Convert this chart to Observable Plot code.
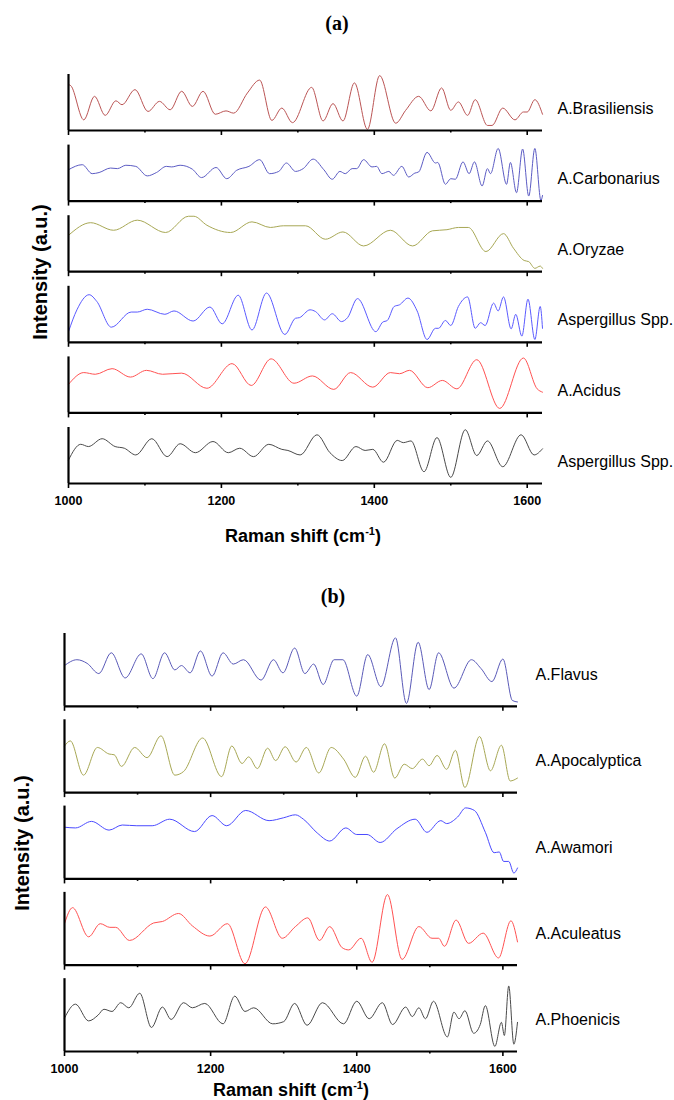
<!DOCTYPE html>
<html><head><meta charset="utf-8">
<script src="https://cdn.jsdelivr.net/npm/d3@7"></script>
<script src="https://cdn.jsdelivr.net/npm/@observablehq/plot@0.6"></script>
<style>
body{margin:0;background:#fff;}
#fig{position:relative;width:674px;height:1100px;font-family:"Liberation Sans",Arial,sans-serif;color:#000;}
#fig svg{position:absolute;left:0;}
.ttl{position:absolute;font-family:"Liberation Serif","Times New Roman",serif;font-weight:bold;font-size:20px;transform:translate(-50%,-50%);white-space:nowrap;}
.xl{position:absolute;font-weight:bold;font-size:18px;transform:translate(-50%,-50%);white-space:nowrap;}
.xl sup{font-size:11px;}
.yl{position:absolute;font-weight:bold;font-size:20px;transform:translate(-50%,-50%) rotate(-90deg);white-space:nowrap;}
</style></head><body><div id="fig"></div>
<script>
const ramanTicks = [1000, 1200, 1400, 1600];
const minorTicks = [1100, 1300, 1500];

const namesA = ["A.Brasiliensis", "A.Carbonarius", "A.Oryzae", "Aspergillus Spp.", "A.Acidus", "Aspergillus Spp."];
const colorsA = ["#bb5555", "#5c5cc4", "#a8a855", "#5a5aff", "#ff5252", "#4a4a4a"];
const namesB = ["A.Flavus", "A.Apocalyptica", "A.Awamori", "A.Aculeatus", "A.Phoenicis"];
const colorsB = ["#5a5ab8", "#a8a855", "#4a4aff", "#ff5252", "#4a4a4a"];

// [Raman shift, relative intensity]
const brasiliensis = [[1000,0.82],[1003,0.80],[1020,0.19],[1034,0.61],[1048,0.27],[1062,0.53],[1070,0.46],[1087,0.73],[1104,0.34],[1119,0.52],[1133,0.37],[1148,0.70],[1162,0.43],[1176,0.70],[1192,0.29],[1206,0.35],[1216,0.31],[1234,0.67],[1250,0.90],[1266,0.18],[1279,0.40],[1293,0.14],[1318,0.77],[1333,0.17],[1346,0.48],[1359,0.17],[1374,0.85],[1391,0.02],[1407,0.98],[1428,0.13],[1441,0.36],[1458,0.61],[1474,0.35],[1488,0.76],[1500,0.36],[1510,0.51],[1522,0.27],[1532,0.55],[1548,0.09],[1554,0.09],[1568,0.40],[1584,0.19],[1595,0.33],[1600,0.33],[1610,0.55],[1620,0.29]];
const carbonarius = [[1000,0.56],[1018,0.65],[1031,0.49],[1040,0.51],[1055,0.59],[1064,0.58],[1075,0.64],[1088,0.62],[1103,0.45],[1115,0.51],[1128,0.62],[1135,0.61],[1146,0.64],[1162,0.57],[1174,0.42],[1193,0.60],[1207,0.40],[1220,0.55],[1236,0.62],[1250,0.74],[1263,0.49],[1275,0.53],[1285,0.68],[1297,0.53],[1307,0.58],[1320,0.75],[1334,0.56],[1345,0.39],[1355,0.53],[1362,0.49],[1371,0.58],[1377,0.58],[1386,0.74],[1397,0.61],[1403,0.62],[1410,0.49],[1419,0.53],[1425,0.46],[1436,0.62],[1445,0.43],[1453,0.50],[1458,0.52],[1469,0.87],[1480,0.68],[1483,0.69],[1493,0.30],[1500,0.40],[1506,0.39],[1516,0.70],[1524,0.49],[1531,0.70],[1541,0.27],[1548,0.58],[1552,0.49],[1562,0.94],[1573,0.30],[1578,0.69],[1586,0.15],[1594,0.93],[1602,0.09],[1610,0.94],[1618,0.01],[1620,0.10]];
const oryzae = [[1000,0.65],[1029,0.875],[1059,0.74],[1090,0.92],[1127,0.70],[1157,0.99],[1164,0.99],[1181,0.83],[1212,0.70],[1240,0.89],[1264,0.79],[1281,0.82],[1310,0.82],[1336,0.58],[1359,0.71],[1386,0.46],[1421,0.74],[1450,0.46],[1476,0.73],[1495,0.75],[1510,0.79],[1523,0.79],[1546,0.36],[1569,0.68],[1582,0.42],[1596,0.20],[1602,0.18],[1610,0.06],[1617,0.10],[1620,0.06]];
const aspergillusBlue = [[1000,0.19],[1011,0.58],[1027,0.85],[1037,0.73],[1056,0.27],[1082,0.54],[1090,0.54],[1103,0.59],[1126,0.50],[1138,0.56],[1163,0.38],[1185,0.63],[1201,0.33],[1222,0.84],[1240,0.22],[1259,0.88],[1283,0.14],[1297,0.43],[1302,0.44],[1316,0.58],[1323,0.55],[1335,0.40],[1345,0.51],[1357,0.37],[1365,0.44],[1378,0.78],[1402,0.19],[1411,0.36],[1417,0.39],[1426,0.64],[1433,0.67],[1444,0.79],[1456,0.56],[1469,0.05],[1480,0.25],[1484,0.25],[1493,0.39],[1500,0.30],[1510,0.64],[1522,0.81],[1532,0.25],[1539,0.35],[1545,0.30],[1556,0.70],[1562,0.56],[1569,0.81],[1579,0.24],[1585,0.50],[1593,0.11],[1601,0.77],[1610,0.05],[1617,0.64],[1620,0.25]];
const acidus = [[1000,0.51],[1020,0.72],[1035,0.69],[1057,0.79],[1081,0.64],[1102,0.76],[1123,0.69],[1148,0.71],[1181,0.44],[1214,0.88],[1239,0.49],[1265,0.965],[1295,0.53],[1319,0.66],[1347,0.42],[1369,0.72],[1398,0.46],[1421,0.72],[1433,0.70],[1446,0.76],[1470,0.45],[1489,0.58],[1508,0.43],[1534,0.95],[1564,0.08],[1595,0.98],[1613,0.43],[1620,0.37]];
const aspergillusBlack = [[1000,0.42],[1016,0.70],[1026,0.66],[1044,0.80],[1061,0.66],[1073,0.63],[1088,0.51],[1109,0.80],[1129,0.48],[1146,0.71],[1166,0.55],[1189,0.75],[1209,0.55],[1224,0.63],[1242,0.48],[1262,0.70],[1279,0.61],[1287,0.59],[1303,0.51],[1325,0.87],[1342,0.55],[1358,0.41],[1376,0.66],[1388,0.59],[1398,0.61],[1412,0.38],[1430,0.77],[1438,0.73],[1448,0.76],[1465,0.21],[1482,0.82],[1500,0.11],[1519,0.96],[1534,0.50],[1548,0.76],[1568,0.30],[1592,0.87],[1609,0.51],[1620,0.62]];

const flavus = [[1000,0.56],[1017,0.64],[1031,0.59],[1047,0.45],[1064,0.735],[1083,0.39],[1105,0.72],[1121,0.38],[1137,0.735],[1151,0.50],[1160,0.56],[1172,0.46],[1186,0.76],[1202,0.415],[1217,0.735],[1231,0.58],[1245,0.64],[1269,0.36],[1286,0.64],[1299,0.46],[1315,0.80],[1329,0.45],[1341,0.58],[1354,0.30],[1369,0.64],[1381,0.64],[1400,0.14],[1415,0.71],[1433,0.27],[1453,0.94],[1468,0.04],[1484,0.88],[1499,0.23],[1512,0.735],[1533,0.25],[1557,0.64],[1570,0.52],[1585,0.34],[1600,0.65],[1613,0.08],[1620,0.06]];
const apocalyptica = [[1000,0.64],[1008,0.71],[1026,0.24],[1045,0.62],[1061,0.53],[1068,0.52],[1078,0.36],[1096,0.62],[1113,0.48],[1132,0.78],[1151,0.24],[1163,0.29],[1189,0.75],[1215,0.22],[1229,0.64],[1243,0.40],[1252,0.49],[1264,0.33],[1278,0.61],[1289,0.44],[1302,0.63],[1317,0.42],[1331,0.62],[1348,0.27],[1365,0.62],[1382,0.46],[1398,0.21],[1412,0.50],[1423,0.28],[1438,0.67],[1452,0.20],[1465,0.39],[1476,0.33],[1490,0.46],[1499,0.37],[1510,0.51],[1523,0.32],[1535,0.58],[1548,0.07],[1568,0.77],[1583,0.30],[1598,0.65],[1610,0.16],[1620,0.20]];
const awamori = [[1000,0.71],[1015,0.70],[1037,0.79],[1061,0.67],[1079,0.74],[1099,0.73],[1120,0.73],[1144,0.82],[1178,0.65],[1202,0.87],[1222,0.73],[1248,0.94],[1280,0.80],[1300,0.84],[1316,0.88],[1327,0.82],[1346,0.63],[1363,0.52],[1385,0.70],[1400,0.61],[1414,0.61],[1432,0.50],[1455,0.69],[1480,0.82],[1496,0.64],[1515,0.80],[1523,0.76],[1538,0.85],[1549,0.975],[1561,0.94],[1576,0.64],[1588,0.36],[1595,0.37],[1601,0.24],[1608,0.24],[1615,0.08],[1620,0.15]];
const aculeatus = [[1000,0.57],[1011,0.79],[1033,0.39],[1049,0.57],[1062,0.52],[1070,0.52],[1089,0.34],[1122,0.58],[1134,0.60],[1156,0.71],[1175,0.54],[1199,0.40],[1223,0.57],[1247,0.02],[1275,0.80],[1298,0.37],[1316,0.53],[1333,0.65],[1349,0.34],[1363,0.53],[1380,0.24],[1389,0.21],[1406,0.37],[1421,0.04],[1442,0.97],[1462,0.08],[1485,0.53],[1503,0.37],[1512,0.37],[1520,0.26],[1536,0.62],[1553,0.30],[1573,0.44],[1594,0.10],[1611,0.61],[1620,0.32]];
const phoenicis = [[1000,0.46],[1015,0.65],[1033,0.42],[1046,0.50],[1054,0.58],[1065,0.55],[1077,0.67],[1088,0.60],[1103,0.80],[1119,0.33],[1134,0.61],[1146,0.44],[1163,0.67],[1175,0.60],[1192,0.66],[1217,0.38],[1233,0.76],[1247,0.55],[1259,0.60],[1285,0.38],[1300,0.41],[1315,0.66],[1332,0.36],[1353,0.67],[1382,0.38],[1400,0.69],[1417,0.45],[1435,0.67],[1449,0.37],[1467,0.61],[1476,0.48],[1485,0.60],[1494,0.45],[1505,0.69],[1524,0.20],[1533,0.54],[1540,0.45],[1548,0.56],[1560,0.25],[1569,0.37],[1576,0.63],[1589,0.07],[1598,0.40],[1602,0.22],[1608,0.90],[1615,0.10],[1620,0.40]];

const seriesA = [brasiliensis, carbonarius, oryzae, aspergillusBlue, acidus, aspergillusBlack];
const seriesB = [flavus, apocalyptica, awamori, aculeatus, phoenicis];

const fontFam = '"Liberation Sans", Arial, sans-serif';

function panel(key, names, colors, series, o) {
  const ids = names.map((_, i) => key + i);
  const data = series.flatMap((s, i) => s.map(([x, y]) => ({id: ids[i], x, y})));
  return Plot.plot({
    width: 674, height: o.height,
    marginTop: o.mt, marginBottom: o.mb, marginLeft: o.ml, marginRight: o.mr,
    x: {domain: [1000, 1620]},
    y: {domain: [0, 1], axis: null},
    fy: {domain: ids, paddingInner: o.pad, paddingOuter: 0, round: false},
    color: {domain: ids, range: colors},
    style: {fontFamily: fontFam, background: "transparent", color: "#000", overflow: "visible"},
    marks: [
      Plot.line(data, {x: "x", y: "y", fy: "id", stroke: "id", strokeWidth: 1, curve: "monotone-x"}),
      Plot.ruleX([1000], {stroke: "#000", strokeWidth: 2.2}),
      Plot.ruleY([0], {stroke: "#000", strokeWidth: 2.2}),
      Plot.axisX({ticks: ramanTicks, tickSize: 5, tickFormat: () => "", facetAnchor: null, strokeWidth: 1.6, label: null}),
      Plot.axisX({ticks: minorTicks, tickSize: 2.5, tickFormat: () => "", facetAnchor: null, strokeWidth: 1.6, label: null}),
      Plot.axisX({ticks: ramanTicks, tickSize: 0, tickPadding: 13, tickFormat: d3.format("d"), fontSize: 12.5, fontWeight: "bold", label: null}),
      Plot.axisFy({anchor: "right", tickFormat: id => names[ids.indexOf(id)], tickSize: 0, tickPadding: o.lp, fontSize: 16, dy: o.ldy, label: null, textAnchor: "start"})
    ]
  });
}

const fig = document.getElementById("fig");
const svgA = panel("a", namesA, colorsA, seriesA, {height: 520, mt: 74, mb: 37, ml: 68, mr: 132, pad: 0.207, lp: 15, ldy: 6});
svgA.style.top = "0px";
fig.appendChild(svgA);
const svgB = panel("b", namesB, colorsB, seriesB, {height: 480, mt: 33, mb: 29, ml: 64, mr: 157, pad: 0.156, lp: 18, ldy: 5});
svgB.style.top = "600px";
fig.appendChild(svgB);

function addText(cls, html, x, y) {
  const d = document.createElement("div");
  d.className = cls; d.innerHTML = html;
  d.style.left = x + "px"; d.style.top = y + "px";
  fig.appendChild(d);
}
addText("ttl", "(a)", 337, 23);
addText("xl", "Raman shift (cm<sup>-1</sup>)", 303, 536);
addText("yl", "Intensity (a.u.)", 40, 272);
addText("ttl", "(b)", 333, 596);
addText("xl", "Raman shift (cm<sup>-1</sup>)", 291, 1090);
addText("yl", "Intensity (a.u.)", 22, 843);
</script></body></html>
